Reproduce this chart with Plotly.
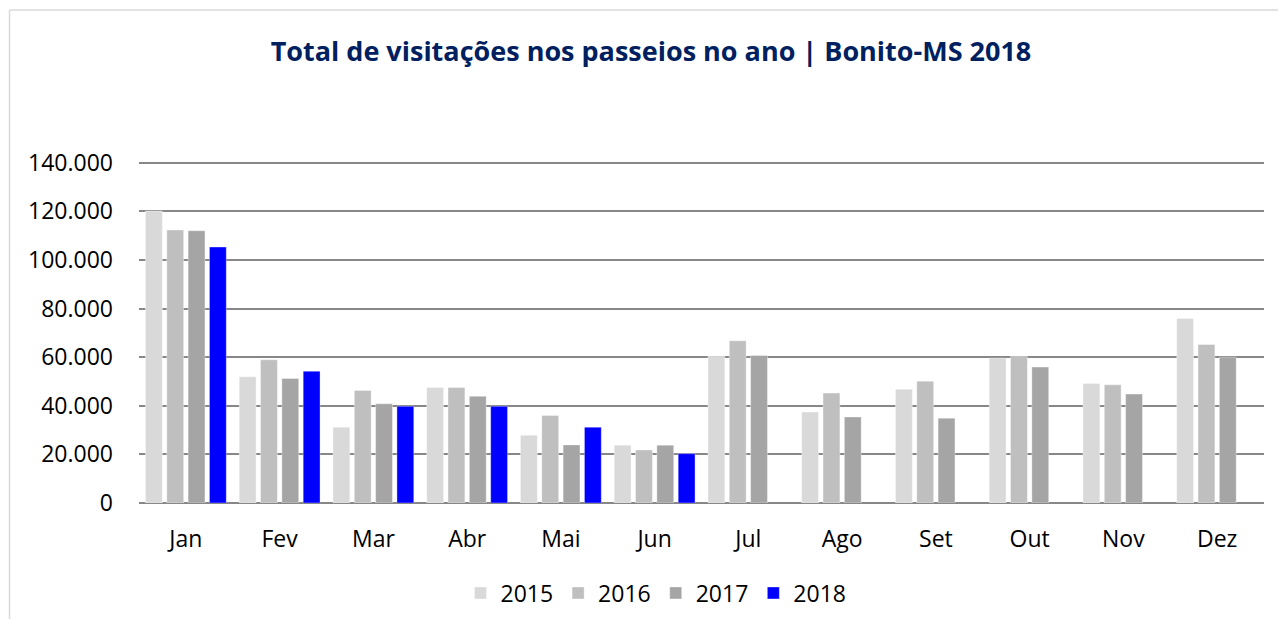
import plotly.graph_objects as go

months = ["Jan", "Fev", "Mar", "Abr", "Mai", "Jun", "Jul", "Ago", "Set", "Out", "Nov", "Dez"]
v2015 = [120100, 51900, 31200, 47500, 27900, 23800, 60400, 37400, 46800, 59600, 49200, 75900]
v2016 = [112300, 58900, 46300, 47500, 36000, 21800, 66700, 45200, 50100, 60300, 48600, 65200]
v2017 = [112000, 51200, 40800, 43900, 23900, 23800, 60700, 35400, 34900, 55900, 44800, 60000]
v2018 = [105300, 54200, 39800, 39800, 31200, 20300, None, None, None, None, None, None]
years = ["2015", "2016", "2017", "2018"]
colors = ["#d9d9d9", "#bfbfbf", "#a5a5a5", "#0000ff"]
y_ticks = [0, 20000, 40000, 60000, 80000, 100000, 120000, 140000]

# page has an 8px body margin; figure coordinates = page coordinates - 8
OFF = 8
W, H = 1270, 611
YMAX = 141500
top_px = 503 - (503 - 163) * YMAX / 140000
L = 139 - OFF
T = top_px - OFF
R = W - (1264 - OFF)
B = H - (503 - OFF)
pw, ph = W - L - R, H - T - B

def px_x(x):
    return (x - OFF - L) / pw

def px_y(y):
    return (H - B - (y - OFF)) / ph

fig = go.Figure()
for name, vals, col in zip(years, [v2015, v2016, v2017, v2018], colors):
    fig.add_trace(go.Bar(x=months, y=vals, name=name, marker_color=col,
                         marker_line=dict(width=0.6, color="rgba(255,255,255,0.6)")))

font = "Open Sans"
fig.update_layout(
    width=W, height=H,
    margin=dict(l=L, r=R, t=T, b=B, autoexpand=False),
    paper_bgcolor="white", plot_bgcolor="white",
    barmode="group", bargap=0.09, bargroupgap=0.21,
    separators=",.",
    title=dict(text="<b>Total de visitações nos passeios no ano | Bonito-MS 2018</b>",
               x=px_x(651), xref="paper", xanchor="center",
               y=1 - (52 - OFF) / H, yref="container", yanchor="middle",
               font=dict(family=font, size=27, color="#002060")),
    xaxis=dict(showgrid=False, showline=False, ticks="", zeroline=False,
               automargin=False,
               tickfont=dict(family=font, size=23, color="#000000"),
               ticklabelstandoff=20),
    yaxis=dict(range=[0, YMAX], tickvals=y_ticks, tickformat=",d",
               automargin=False,
               showgrid=True, gridcolor="#878787", gridwidth=1.5,
               zeroline=True, zerolinecolor="#878787", zerolinewidth=1.5,
               showline=False, ticks="",
               tickfont=dict(family=font, size=23, color="#000000"),
               ticklabelstandoff=25),
    legend=dict(orientation="h", x=px_x(656), xanchor="center",
                y=1 - (593 - OFF) / H, yref="container", yanchor="middle",
                font=dict(family=font, size=23, color="#000000"),
                itemwidth=30, traceorder="normal"),
    showlegend=True,
)

fig.add_shape(type="line", xref="paper", yref="paper",
              x0=px_x(9.5), x1=px_x(9.5), y0=px_y(10.5), y1=px_y(700),
              line=dict(color="#d9d9d9", width=1.5))
fig.add_shape(type="line", xref="paper", yref="paper",
              x0=px_x(9.5), x1=px_x(1400), y0=px_y(10.5), y1=px_y(10.5),
              line=dict(color="#d9d9d9", width=1.5))

fig.write_html("out.html")
